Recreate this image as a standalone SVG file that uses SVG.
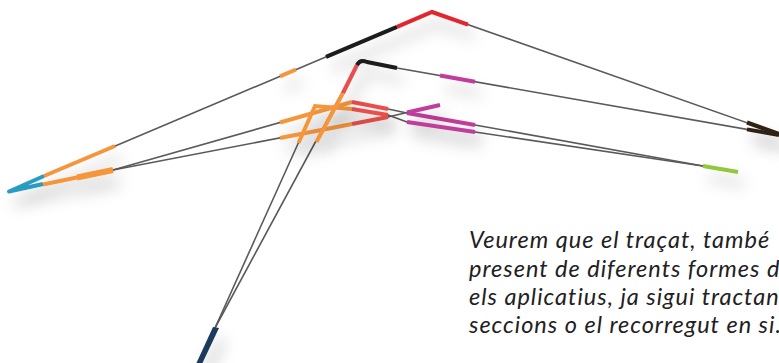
<svg xmlns="http://www.w3.org/2000/svg" width="779" height="363" viewBox="0 0 779 363">
<style>
.g{fill:none;stroke:#5a5a5a;stroke-width:1.6;stroke-linejoin:round}
.s{fill:none;stroke-width:4;stroke-linecap:butt;stroke-linejoin:round}
.or{stroke:#f5963c}
.rd{stroke:#e8504b}
.pk{stroke:#e0262e}
.bk{stroke:#1c1c1c}
.mg{stroke:#c03d9c}
.gr{stroke:#93c83e}
.bl{stroke:#2a9cc2}
.br{stroke:#2e2219}
.t{font-family:Lato,"Open Sans","Liberation Sans",sans-serif;font-style:italic;font-size:23.5px;letter-spacing:1px;fill:#222022}
</style>
<defs>
<filter id="sh" x="-40%" y="-60%" width="180%" height="280%">
<feGaussianBlur in="SourceAlpha" stdDeviation="7.5"/>
<feOffset dx="6" dy="12" result="b"/>
<feFlood flood-color="#000" flood-opacity="0.26"/>
<feComposite in2="b" operator="in"/>
<feMerge><feMergeNode/><feMergeNode in="SourceGraphic"/></feMerge>
</filter>
</defs>
<g id="connectors">
<path class="g" d="M9,191 L432,12 L779,134"/>
<path class="g" d="M9,192 L113,170"/>
<path class="g" d="M113,170 L352,102 L388,109 L407,113 L475,125 L703,166 L738,172"/>
<path class="g" d="M113,170 L352,124 L388,117 L407,112.5 L440,105"/>
<path class="g" d="M215,328 L315,106 L352,109 L388,115 L407,122 L475,132 L703,166"/>
<path class="g" d="M215,328 L357,65 Q360,59 367,62 L397,68 L779,135"/>
</g>
<g id="route1" filter="url(#sh)">
<path class="s bl" d="M44,176 L9,191.5 L43,184"/>
<path class="s or" d="M44,176 L115,146"/>
<path class="s or" d="M280,76.3 L296,69.5"/>
<path class="s bk" d="M326,56.8 L397,26.8"/>
<path class="s pk" style="stroke-linejoin:miter" d="M397,26.8 L432,12 L468,24.7"/>
<path class="s br" d="M747,122.5 L779,134"/>
<path class="s or" d="M43,184.5 L113,170"/>
<path class="s or" style="stroke-width:6" d="M77,177.5 L113,170"/>
</g>
<g id="route3" filter="url(#sh)">
<path class="s or" d="M280,122.5 L352,102"/>
<path class="s rd" d="M352,102 L388,109"/>
<path class="s mg" d="M407,113 L475,125"/>
<path class="s gr" d="M703,166 L738,172"/>
</g>
<g id="route4" filter="url(#sh)">
<path class="s or" d="M280,138 L352,124"/>
<path class="s rd" d="M352,124 L388,117"/>
<path class="s mg" d="M407,112.5 L440,105"/>
</g>
<g id="route5" filter="url(#sh)">
<path class="s or" style="stroke-linejoin:miter" d="M298.5,143 L315,106 L352,109"/>
<path class="s rd" d="M352,109 L388,115"/>
<path class="s mg" d="M407,122 L475,132"/>
</g>
<g id="route2" filter="url(#sh)">
<path class="s or" d="M316.5,142 L343,93"/>
<path class="s rd" d="M343,93 L357,65"/>
<path class="s bk" d="M357,65 Q360,59 367,62 L397,68"/>
<path class="s mg" d="M440,75.5 L475,81.7"/>
<path class="s br" d="M747,129.4 L779,135"/>
<polygon fill="#1e3a5c" points="213,327 219,328 202,364 196,364"/>
</g>
<g id="caption">
<text class="t" x="469" y="248">Veurem que el traçat, també</text>
<text class="t" x="469" y="277">present de diferents formes d</text>
<text class="t" x="469" y="305">els aplicatius, ja sigui tractan</text>
<text class="t" x="469" y="333">seccions o el recorregut en si.</text>
</g>
</svg>
